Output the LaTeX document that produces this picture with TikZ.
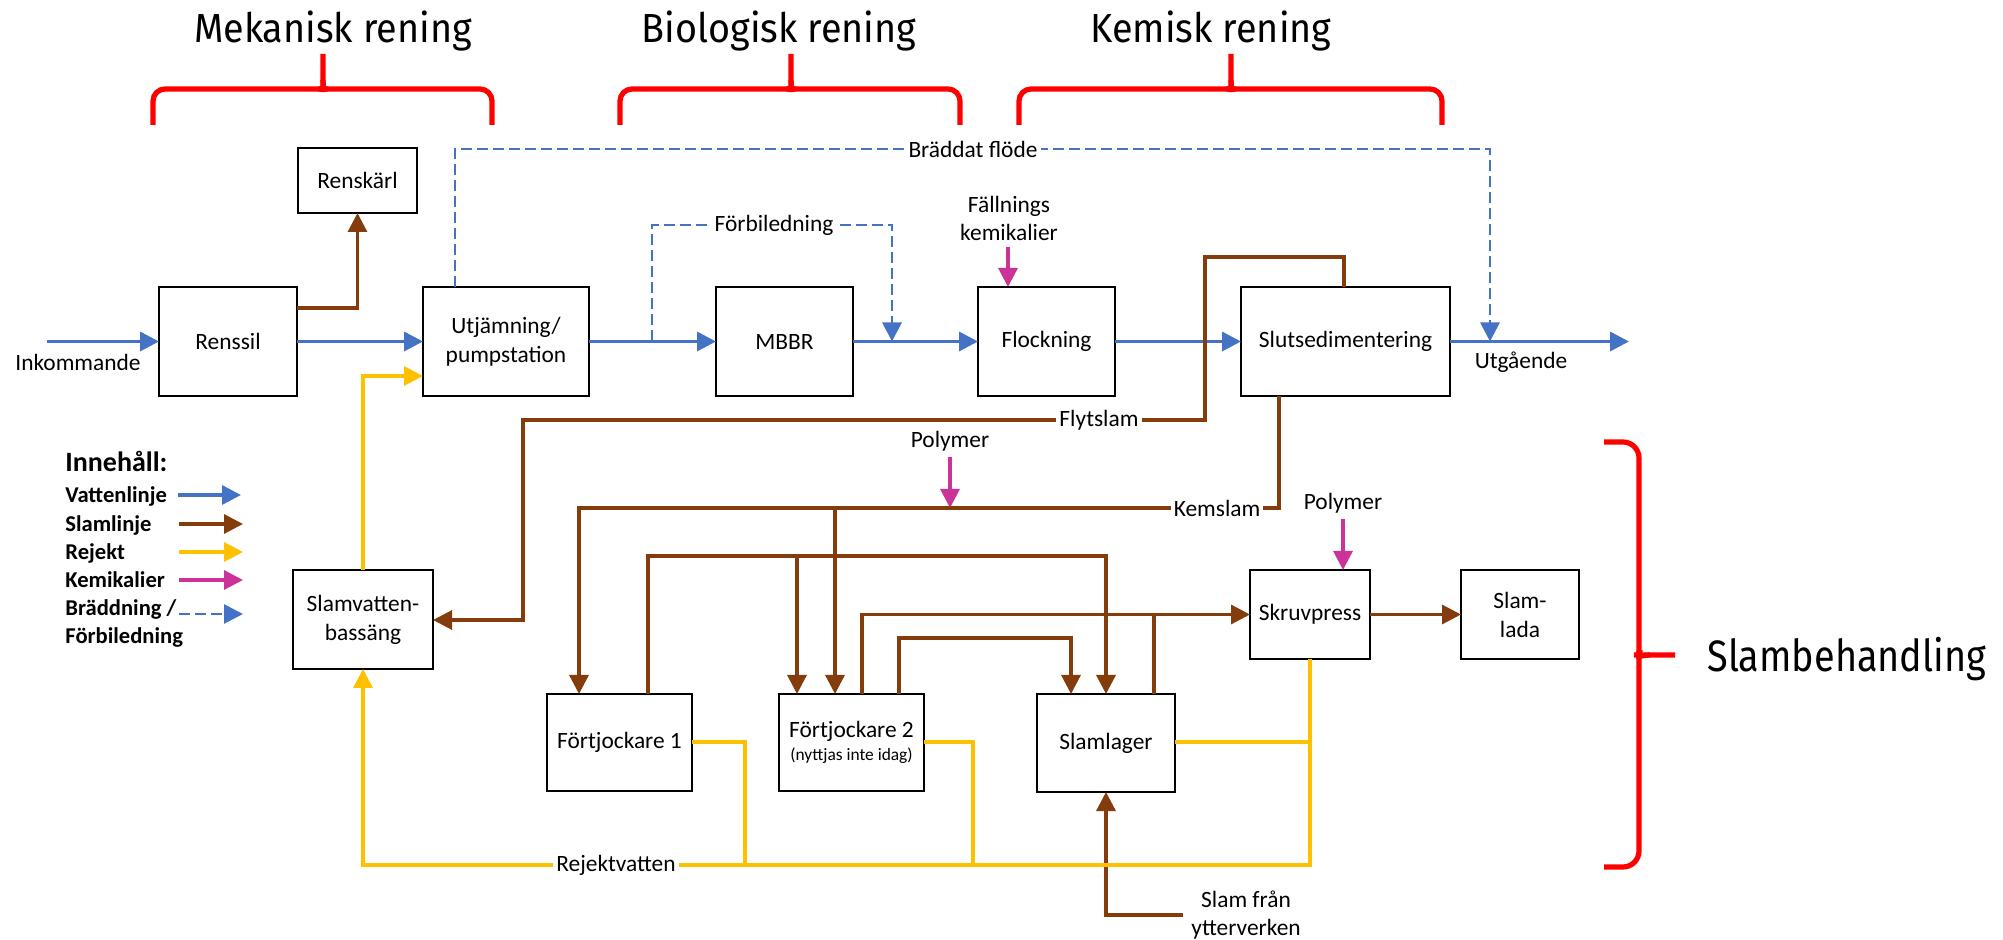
\documentclass[tikz,border=0pt]{standalone}
\usepackage{fontspec}
\setmainfont{Carlito}
\newfontfamily\titlefont[FakeStretch=0.93]{Fira Sans}
\newfontfamily\sidefont[FakeStretch=0.86]{Fira Sans}
\usetikzlibrary{arrows.meta}

\definecolor{waterblue}{HTML}{4472C4}
\definecolor{sludgebrown}{HTML}{843C0C}
\definecolor{rejectyellow}{HTML}{FFC000}
\definecolor{chemmagenta}{HTML}{CC3399}
\definecolor{bracered}{HTML}{FF0000}

% horizontal curly bracket opening downwards: left end, tip, right end
\newcommand\topbrace[3]{%
  \draw[brace] (#1,125) -- (#1,89) -- (#2-7,89) .. controls (#2-2,89) and (#2,86) .. (#2,80) -- (#2,54);
  \draw[brace] (#3,125) -- (#3,89) -- (#2+7,89) .. controls (#2+2,89) and (#2,86) .. (#2,80);
}

\begin{document}
\begin{tikzpicture}[x=0.5pt,y=-0.5pt,
  arr/.style={-{Triangle[length=9.5pt,width=9.5pt]}},
  water/.style={draw=waterblue, line width=1.7pt},
  sludge/.style={draw=sludgebrown, line width=1.6pt},
  reject/.style={draw=rejectyellow, line width=1.6pt},
  chem/.style={draw=chemmagenta, line width=1.6pt},
  bypass/.style={draw=waterblue, line width=1.4pt, dash pattern=on 5.5pt off 2.5pt},
  box/.style={draw, line width=1.2pt, inner sep=0pt, outer sep=0pt, align=center,
    font=\fontsize{11.7}{14.5}\selectfont},
  lbl/.style={inner sep=1.5pt, align=center, font=\fontsize{11.7}{14}\selectfont},
  onl/.style={lbl, fill=white},
  legend/.style={anchor=base west, inner sep=0pt, font=\bfseries\fontsize{11.3}{13.5}\selectfont},
  brace/.style={draw=bracered, line width=2.6pt, rounded corners=6pt},
  title/.style={anchor=base, inner sep=0pt, font=\titlefont\fontsize{20.3}{24}\selectfont},
]
\useasboundingbox (0,0) rectangle (2003,940);

% ---------- section headings and braces ----------
\node[title] (tmek) at (333,43) {Mekanisk rening};
\node[title] (tbio) at (779,43) {Biologisk rening};
\node[title] (tkem) at (1211,43) {Kemisk rening};
\node[title, anchor=base west, font=\sidefont\fontsize{22}{26}\selectfont] (tslam) at (1707,672) {Slambehandling};

\topbrace{153}{323}{492}
\topbrace{620}{791}{960}
\topbrace{1019}{1231}{1442}

\draw[brace, rounded corners=8pt] (1604,442) -- (1639,442) -- (1639,643)
  .. controls (1639,651) and (1642,655) .. (1650,655) -- (1675,655);
\draw[brace, rounded corners=8pt] (1604,867) -- (1639,867) -- (1639,667)
  .. controls (1639,659) and (1642,655) .. (1650,655);

% ---------- process units ----------
\node[box, minimum width=69pt,   minimum height=54.5pt] (renssil) at (228,341.5)  {Renssil};
\node[box, minimum width=59.5pt, minimum height=32.5pt] (renskarl) at (357.5,180.5) {Renskärl};
\node[box, minimum width=83pt,   minimum height=54.5pt] (utj)     at (506,341.5)  {Utjämning/\\pumpstation};
\node[box, minimum width=68.5pt, minimum height=54.5pt] (mbbr)    at (784.5,341.5) {MBBR};
\node[box, minimum width=68.5pt, minimum height=54.5pt] (flock)   at (1046.5,341.5) {Flockning};
\node[box, minimum width=104.5pt,minimum height=54.5pt] (slut)    at (1345.5,341.5) {Slutsedimentering};
\node[box, minimum width=70pt,   minimum height=49.5pt] (slamv)   at (363,619.5)  {Slamvatten-\\bassäng};
\node[box, minimum width=72.5pt, minimum height=48.5pt] (ft1)     at (619.5,742.5) {Förtjockare 1};
\node[box, minimum width=72.5pt, minimum height=48.5pt] (ft2)     at (851.5,742.5)
  {Förtjockare 2\\[-3pt]{\fontsize{8.7}{10}\selectfont(nyttjas inte idag)}};
\node[box, minimum width=69pt,   minimum height=49pt]   (slager)  at (1106,743)   {Slamlager};
\node[box, minimum width=60pt,   minimum height=44.5pt] (skruv)   at (1310,614.5) {Skruvpress};
\node[box, minimum width=59pt,   minimum height=44.5pt] (slada)   at (1520,614.5) {Slam-\\lada};

% ---------- water line ----------
\coordinate (inflow) at (47,341.5);
\coordinate (outflow) at (1629,341.5);
\draw[water, arr] (inflow) -- (renssil.west);
\draw[water, arr] (renssil.east) -- (utj.west);
\draw[water, arr] (utj.east) -- (mbbr.west);
\draw[water, arr] (mbbr.east) -- (flock.west);
\draw[water, arr] (flock.east) -- (slut.west);
\draw[water, arr] (slut.east) -- (outflow);
\node[lbl] (inkommande) at (78,362) {Inkommande};
\node[lbl] (utgaende) at (1521,362) {Utgående};

% ---------- overflow and bypass ----------
\coordinate (bradin) at (455,287);
\coordinate (bradout) at (1490,341.5);
\draw[bypass, arr] (bradin) -- (455,149) -- (1490,149) -- (bradout);
\node[onl] (bradlbl) at (973,149) {Bräddat flöde};

\coordinate (fbin) at (652,341.5);
\coordinate (fbout) at (892,341.5);
\draw[bypass, arr] (fbin) -- (652,225) -- (892,225) -- (fbout);
\node[onl] (fblbl) at (774,225) {Förbiledning};

% ---------- chemicals ----------
\node[lbl] (fallning) at (1009,218) {Fällnings\\kemikalier};
\coordinate (fallin) at (1008,247);
\draw[chem, arr] (fallin) -- (1008,0 |- flock.north);

\node[lbl] (poly1) at (950,441) {Polymer};
\coordinate (poly1in) at (950,457);
\coordinate (poly1out) at (950,508);
\draw[chem, arr] (poly1in) -- (poly1out);

\node[lbl] (poly2) at (1343,503) {Polymer};
\coordinate (poly2in) at (1343,519);
\draw[chem, arr] (poly2in) -- (1343,0 |- skruv.north);

% ---------- sludge lines ----------
\draw[sludge, arr] (renssil.east |- 0,308) -| (renskarl.south);

\draw[sludge, arr] (1344,0 |- slut.north) -- (1344,257) -- (1205,257) -- (1205,420)
  -- (523,420) -- (523,620) -- (slamv.east |- 0,620);
\node[onl] (flytlbl) at (1099,420) {Flytslam};

\draw[sludge, arr] (1279,0 |- slut.south) -- (1279,508) -- (579,508) -- (579,0 |- ft1.north);
\draw[sludge, arr] (835,508) -- (835,0 |- ft2.north);
\node[onl] (kemlbl) at (1217,508) {Kemslam};

\draw[sludge, arr] (648,0 |- ft1.north) -- (648,556) -- (1106,556) -- (slager.north);
\draw[sludge, arr] (797,556) -- (797,0 |- ft2.north);

\draw[sludge, arr] (862,0 |- ft2.north) |- (skruv.west);
\draw[sludge] (1154,0 |- slager.north) -- (1154,614.5);

\draw[sludge, arr] (899,0 |- ft2.north) -- (899,638) -- (1071,638) -- (1071,0 |- slager.north);

\draw[sludge, arr] (skruv.east) -- (slada.west);

\coordinate (extin) at (1183,915);
\draw[sludge, arr] (extin) -- (1106,915) -- (slager.south);
\node[lbl] (extlbl) at (1246,915) {Slam från\\ytterverken};

% ---------- reject water ----------
\draw[reject, arr] (slamv.north) |- (utj.west |- 0,376);
\draw[reject] (ft1.east |- 0,742) -- (745,742) -- (745,865);
\draw[reject] (ft2.east |- 0,742) -- (973,742) -- (973,865);
\draw[reject] (slager.east |- 0,742) -- (1310,742);
\draw[reject, arr] (skruv.south) -- (1310,865) -- (363,865) -- (slamv.south);
\node[onl] (rejlbl) at (616,865) {Rejektvatten};

% ---------- legend ----------
\node[legend, font=\bfseries\fontsize{14}{16}\selectfont] (lgtitle) at (65,472) {Innehåll:};
\node[legend] (lgvat) at (65,502.5) {Vattenlinje};
\node[legend] (lgslam) at (65,531.5) {Slamlinje};
\node[legend] (lgrej) at (65,559.5) {Rejekt};
\node[legend] (lgkem) at (65,587.5) {Kemikalier};
\node[legend] (lgbr1) at (65,615.5) {Bräddning /};
\node[legend] (lgbr2) at (65,643.5) {Förbiledning};
\coordinate (la1) at (178,495); \coordinate (lb1) at (241,495);
\coordinate (la2) at (179,524); \coordinate (lb2) at (243,524);
\coordinate (la3) at (179,552); \coordinate (lb3) at (243,552);
\coordinate (la4) at (179,580); \coordinate (lb4) at (243,580);
\coordinate (la5) at (179,614); \coordinate (lb5) at (243,614);
\draw[water, arr] (la1) -- (lb1);
\draw[sludge, arr] (la2) -- (lb2);
\draw[reject, arr] (la3) -- (lb3);
\draw[chem, arr] (la4) -- (lb4);
\draw[bypass, arr] (la5) -- (lb5);
\end{tikzpicture}
\end{document}
